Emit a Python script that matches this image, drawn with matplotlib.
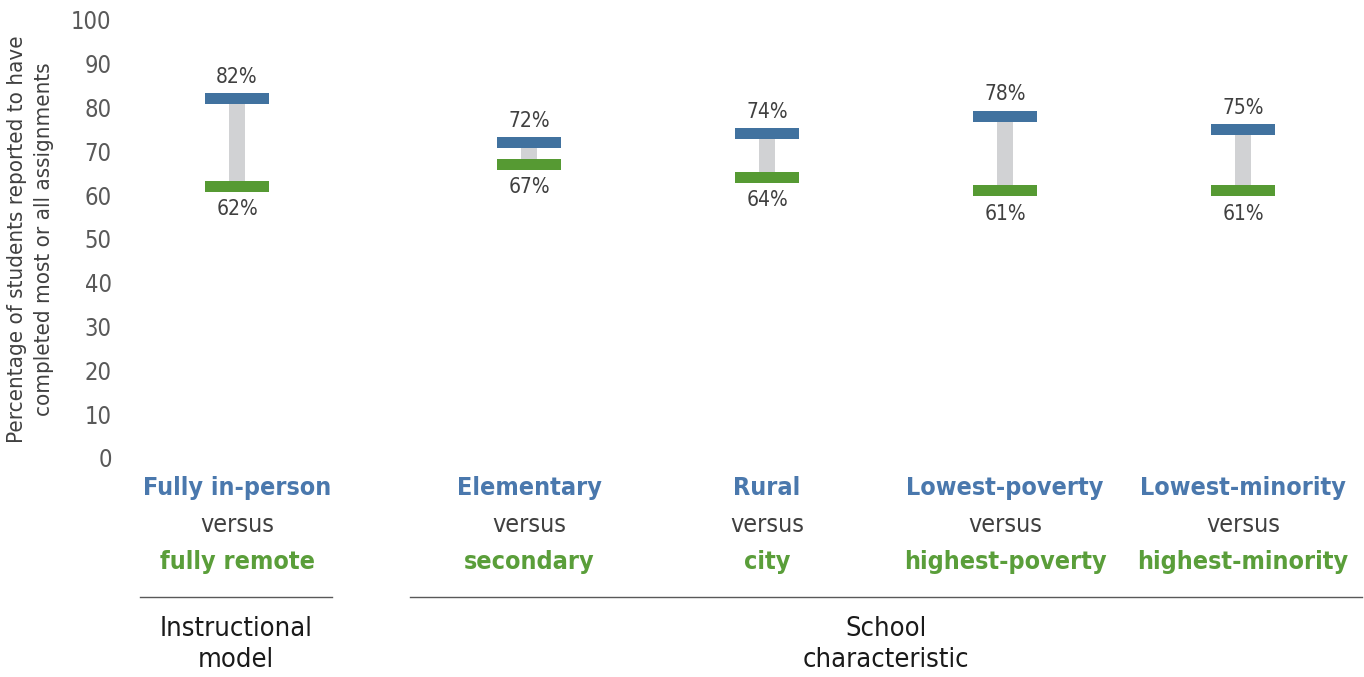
import matplotlib
matplotlib.use('Agg')
import matplotlib.pyplot as plt
from matplotlib.transforms import blended_transform_factory

plt.rcParams['font.family'] = ['DejaVu Sans']
plt.rcParams['font.stretch'] = 'condensed'

top_labels = ['Fully in-person', 'Elementary', 'Rural', 'Lowest-poverty', 'Lowest-minority']
bottom_labels = ['fully remote', 'secondary', 'city', 'highest-poverty', 'highest-minority']
top_values = [82, 72, 74, 78, 75]
bottom_values = [62, 67, 64, 61, 61]
groups = ['Instructional\nmodel', 'School\ncharacteristic']
yticks = [0, 10, 20, 30, 40, 50, 60, 70, 80, 90, 100]

BLUE = '#41729f'
GREEN = '#569a33'
GREY = '#d1d2d4'
TXT = '#404040'

# layout: first category sits a bit apart from the rest
xpos = [0, 1.227, 2.227, 3.227, 4.227]
bar_w = 0.269
stem_w = 0.067
thick = 2.5

fig = plt.figure(figsize=(13.64, 6.77), dpi=100)
ax = fig.add_axes([120 / 1364, 0.3235, 1 - 120 / 1364, 0.647])

for x, hi, lo in zip(xpos, top_values, bottom_values):
    ax.bar(x, (hi - thick / 2) - (lo + thick / 2), bottom=lo + thick / 2,
           width=stem_w, color=GREY, zorder=1)
    ax.bar(x, thick, bottom=hi - thick / 2, width=bar_w, color=BLUE, zorder=2)
    ax.bar(x, thick, bottom=lo - thick / 2, width=bar_w, color=GREEN, zorder=2)
    ax.text(x, hi + 5.0, f'{hi}%', ha='center', va='center', fontsize=15, color=TXT)
    ax.text(x, lo - 5.2, f'{lo}%', ha='center', va='center', fontsize=15, color=TXT)

ax.set_xlim(-0.4916, 4.735)
ax.set_ylim(0, 100)
ax.set_yticks(yticks)
ax.tick_params(axis='y', length=0, labelsize=17, labelcolor='#595959', pad=6)
ax.set_xticks([])
for s in ax.spines.values():
    s.set_visible(False)
ax.set_ylabel('Percentage of students reported to have\ncompleted most or all assignments',
              fontsize=16, color=TXT, labelpad=12, linespacing=1.45)

tr = blended_transform_factory(ax.transData, ax.transAxes)
for x, t, b in zip(xpos, top_labels, bottom_labels):
    ax.text(x, -0.0685, t, transform=tr, ha='center', va='center',
            fontsize=18, fontweight='bold', color='#4a78ad')
    ax.text(x, -0.153, 'versus', transform=tr, ha='center', va='center',
            fontsize=18, color=TXT)
    ax.text(x, -0.237, b, transform=tr, ha='center', va='center',
            fontsize=18, fontweight='bold', color='#5a9e3a')

spans = [(-0.408, 0.399), (0.727, 4.727)]
for (a, b), g in zip(spans, groups):
    ax.plot([a, b], [-0.317, -0.317], transform=tr, color='#595959', lw=1, clip_on=False)
    ax.text((a + b) / 2, -0.425, g, transform=tr, ha='center', va='center',
            fontsize=19.5, color='#1a1a1a', linespacing=1.25)

fig.savefig('out.png', dpi=100)
